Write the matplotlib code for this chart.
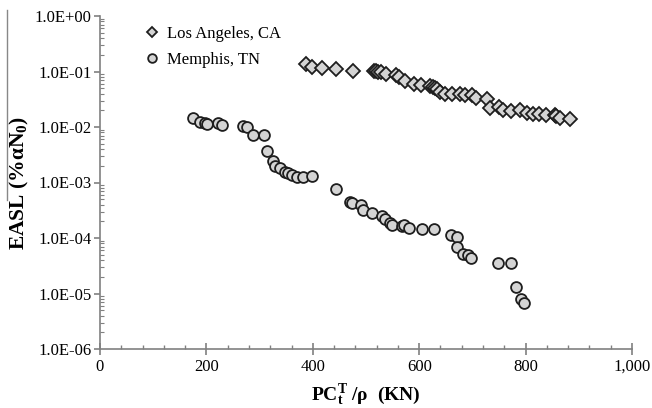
import numpy as np
import matplotlib.pyplot as plt
from matplotlib.ticker import FixedLocator, MultipleLocator, FuncFormatter, LogLocator, NullFormatter
from matplotlib.lines import Line2D

plt.rcParams['font.family'] = ['Liberation Serif', 'DejaVu Serif']
plt.rcParams['mathtext.fontset'] = 'custom'
plt.rcParams['mathtext.rm'] = 'Liberation Serif:bold'
plt.rcParams['mathtext.bf'] = 'Liberation Serif:bold'
plt.rcParams['mathtext.it'] = 'Liberation Serif:bold'

# Los Angeles, CA
la_x = [387, 398, 418, 444, 476, 515, 519, 523, 528, 537, 556, 562, 573, 590,
        603, 620, 626, 630, 633, 639, 648, 662, 677, 687, 699, 707, 727, 734,
        750, 757, 772, 790, 802, 813, 826, 838, 855, 858, 865, 884]
la_y = [0.136, 0.122, 0.117, 0.109, 0.103, 0.104, 0.102, 0.099, 0.097, 0.090,
        0.085, 0.079, 0.068, 0.060, 0.057, 0.055, 0.053, 0.050, 0.048, 0.043,
        0.040, 0.039, 0.039, 0.037, 0.038, 0.033, 0.032, 0.0217, 0.0226,
        0.0202, 0.0194, 0.0202, 0.0181, 0.0169, 0.0169, 0.0164, 0.0162,
        0.0158, 0.0147, 0.0141]

# Memphis, TN
mem_x = [175, 188, 197, 202, 222, 229, 269, 276, 288, 308, 313, 326, 329, 338,
         348, 354, 360, 370, 382, 398, 444, 469, 474, 490, 495, 511, 530, 536,
         545, 548, 567, 571, 580, 605, 627, 660, 671, 671, 682, 692, 697, 749,
         772, 782, 791, 797]
mem_y = [0.0148, 0.0123, 0.0117, 0.0113, 0.0117, 0.0109, 0.0104, 0.0101,
         0.00718, 0.00718, 0.00365, 0.00244, 0.00198, 0.0018, 0.00157,
         0.00147, 0.00137, 0.00127, 0.00127, 0.0013, 0.000754, 0.000451,
         0.000432, 0.000393, 0.00032, 0.000288, 0.000252, 0.00022, 0.000184,
         0.000168, 0.000167, 0.000171, 0.00015, 0.000147, 0.000144, 0.000111,
         0.000105, 0.0000679, 0.0000515, 0.0000494, 0.0000431, 0.000035,
         0.000035, 0.0000129, 0.00000786, 0.00000665]

y_ticks = [1e-6, 1e-5, 1e-4, 1e-3, 1e-2, 1e-1, 1e0]
x_ticks = [0, 200, 400, 600, 800, 1000]

fig = plt.figure(figsize=(6.52, 4.08), dpi=100)
ax = fig.add_axes([100 / 652, 1 - 349 / 408, 532 / 652, 333 / 408])

face = '#d4d4d4'
edge = '#1e1e1e'
ax.plot(la_x, la_y, linestyle='none', marker='D', markersize=7,
        markerfacecolor=face, markeredgecolor=edge, markeredgewidth=1.3,
        label='Los Angeles, CA')
ax.plot(mem_x, mem_y, linestyle='none', marker='o', markersize=7.8,
        markerfacecolor=face, markeredgecolor=edge, markeredgewidth=1.3,
        label='Memphis, TN')

ax.set_yscale('log')
ax.set_xlim(0, 1000)
ax.set_ylim(1e-6, 1e0)

ax.xaxis.set_major_locator(FixedLocator(x_ticks))
ax.xaxis.set_minor_locator(MultipleLocator(40))
ax.xaxis.set_major_formatter(FuncFormatter(lambda v, p: f'{int(v):,}'))
ax.yaxis.set_major_locator(FixedLocator(y_ticks))
ax.yaxis.set_minor_locator(LogLocator(base=10, subs=np.arange(2, 10)))
ax.yaxis.set_minor_formatter(NullFormatter())

def efmt(v, p):
    e = int(round(np.log10(v)))
    sign = '+' if e >= 0 else '-'
    return f'1.0E{sign}{abs(e):02d}'

ax.yaxis.set_major_formatter(FuncFormatter(efmt))

axis_col = '#808080'
for side in ['top', 'right']:
    ax.spines[side].set_visible(False)
for side in ['left', 'bottom']:
    ax.spines[side].set_color(axis_col)
    ax.spines[side].set_linewidth(1.2)

ax.tick_params(axis='x', which='major', direction='inout', length=8, width=1.2,
               color=axis_col, labelsize=12, pad=3)
ax.tick_params(axis='x', which='minor', direction='in', length=3, width=1,
               color=axis_col)
ax.tick_params(axis='y', which='major', direction='out', length=4, width=1.2,
               color=axis_col, labelsize=12, pad=2)
ax.tick_params(axis='y', which='minor', direction='in', length=3, width=0.8,
               color=axis_col)

ax.set_xlabel(r'PC$^\mathrm{T}_\mathrm{t}$ /ρ  (KN)', fontsize=14,
              fontweight='bold', labelpad=6)
ax.set_ylabel(r'EASL (%αN$_\mathrm{0}$)', fontsize=15.5, fontweight='bold',
              labelpad=3)

leg = ax.legend(loc='upper left', bbox_to_anchor=(0.06, 1.0), frameon=False,
                fontsize=12, handletextpad=0.3, borderaxespad=0.2,
                labelspacing=0.6, handlelength=1.2, markerscale=0.8)

# stray scan line at the left edge
fig.add_artist(Line2D([7 / 652, 7 / 652], [1 - 10 / 408, 1 - 200 / 408],
                      color='#888888', linewidth=1.0))

fig.savefig('out.png', dpi=100)
